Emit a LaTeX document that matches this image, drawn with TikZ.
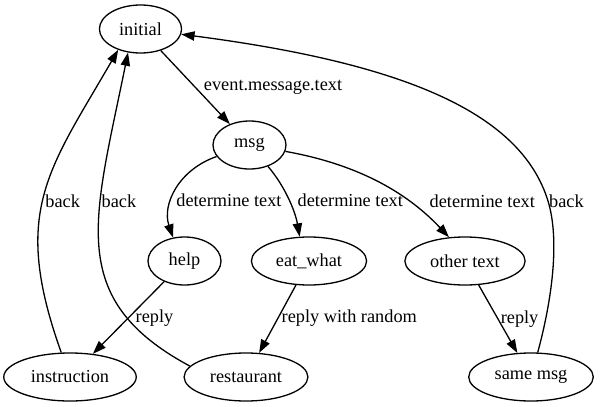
\documentclass[tikz,border=0pt]{standalone}
\usepackage{fontspec}
\setmainfont{Liberation Serif}
\usetikzlibrary{arrows.meta,positioning,shapes.geometric}

\begin{document}
\begin{tikzpicture}[x=1pt, y=-1pt, line width=1.3pt,
      every node/.style={font=\fontsize{18.3}{22}\selectfont},
      state/.style={draw, ellipse, minimum width=73pt, minimum height=48pt,
      inner xsep=7.7pt, inner ysep=0pt},
      lbl/.style={inner sep=0pt},
      >={Triangle[length=13.3pt,width=9.3pt]}]
    \useasboundingbox (0,0) rectangle (600,407);
    \node[state] (initial) at (140.5,29) {initial};
    \node[state] (msg) at (249.5,145) {msg};
    \node[state] (help) at (184.5,261) {help};
    \node[state] (eat) at (309,261) {eat\_what};
    \node[state] (other) at (465,261) {other text};
    \node[state] (instr) at (70,377) {instruction};
    \node[state] (rest) at (246,377) {restaurant};
    \node[state] (same) at (531,377) {same msg};
    \draw[->] (initial) -- node[lbl, pos=.5, right=8pt] {event.message.text} (msg);
    \draw[->] (msg) .. controls (178,170) and (162,205) .. (help.116)
      node[lbl, pos=.61, right=3.5pt] {determine text};
    \draw[->] (msg) .. controls (284,185) and (295,210) .. (eat.111)
      node[lbl, pos=.53, right=8pt] {determine text};
    \draw[->] (msg) .. controls (345,162) and (400,185) .. (other.124)
      node[lbl, pos=.73, right=21pt] {determine text};
    \draw[->] (help) -- node[lbl, pos=.507, right=7pt] {reply} (instr);
    \draw[->] (eat) -- node[lbl, pos=.486, right=3pt] {reply with random} (rest);
    \draw[->] (other) -- node[lbl, pos=.496, right=2.3pt] {reply} (same);
    \draw[->] (instr) .. controls (11,212) and (48,171) .. (initial.223)
      node[lbl, pos=.47, right=2.2pt] {back};
    \draw[->] (rest.169) .. controls (65,299) and (94,220) .. (initial.242)
      node[lbl, pos=.645, right=.7pt] {back};
    \draw[->] (same) .. controls (552,300) and (560,240) .. (548,201)
      node[lbl, right=.5pt] {back} .. controls (521.5,115) and (410,64) .. (initial);
\end{tikzpicture}
\end{document}
